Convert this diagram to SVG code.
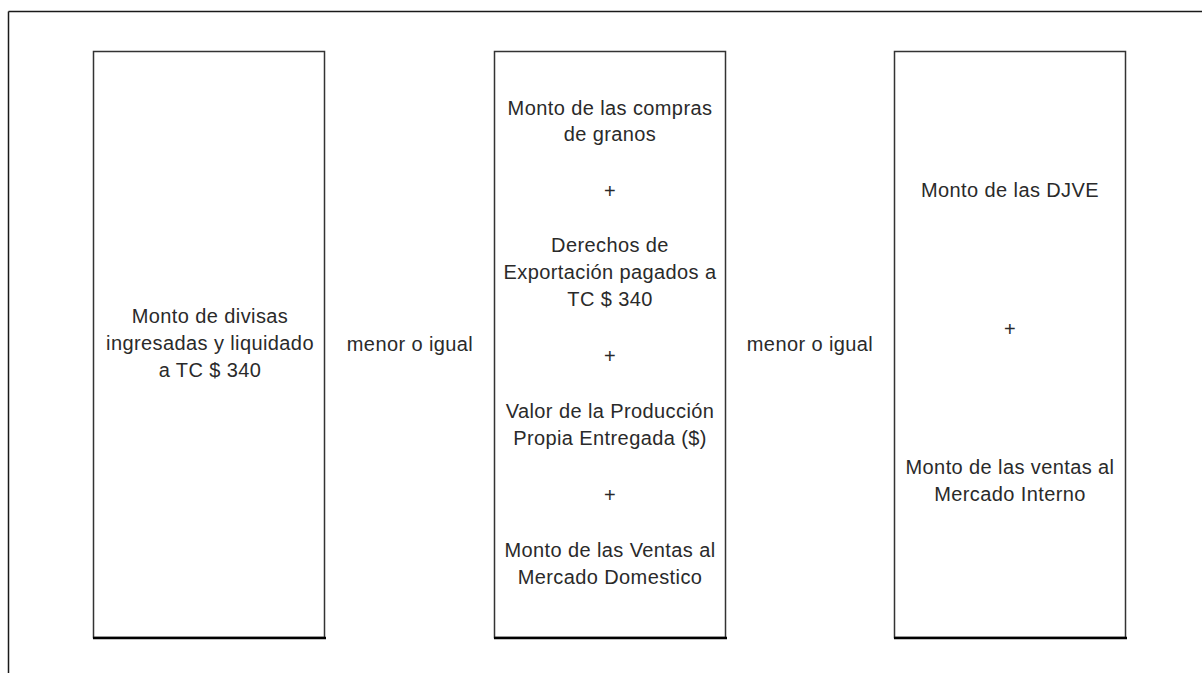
<svg xmlns="http://www.w3.org/2000/svg" width="1202" height="673" viewBox="0 0 1202 673">
<style>
.frame{stroke:#1a1a1a;stroke-width:1.5;fill:none}
.box{fill:#ffffff;stroke:#333333;stroke-width:1.5}
.base{stroke:#000000;stroke-width:2.5}
text{font-family:'Liberation Sans',Arial,sans-serif;font-size:20px;fill:#2a2a2a;text-anchor:middle;letter-spacing:0.4px}
</style>
<rect width="1202" height="673" fill="#ffffff"/>
<g id="frame">
<line class="frame" x1="8.5" y1="11.5" x2="1202" y2="11.5"/>
<line class="frame" x1="8.5" y1="11.5" x2="8.5" y2="673"/>
</g>
<g id="connectors">
<text x="410" y="351">menor o igual</text>
<text x="810" y="351">menor o igual</text>
</g>
<g id="node-divisas">
<rect class="box" x="93.5" y="51.5" width="231" height="586"/>
<line class="base" x1="93" y1="638" x2="326" y2="638"/>
<text x="210" y="323">Monto de divisas</text>
<text x="210" y="350">ingresadas y liquidado</text>
<text x="210" y="377">a TC $ 340</text>
</g>
<g id="node-compras">
<rect class="box" x="494.5" y="51.5" width="231" height="586"/>
<line class="base" x1="494" y1="638" x2="727" y2="638"/>
<text x="610" y="115">Monto de las compras</text>
<text x="610" y="141">de granos</text>
<text x="610" y="198">+</text>
<text x="610" y="252">Derechos de</text>
<text x="610" y="279">Exportación pagados a</text>
<text x="610" y="306">TC $ 340</text>
<text x="610" y="363">+</text>
<text x="610" y="418">Valor de la Producción</text>
<text x="610" y="445">Propia Entregada ($)</text>
<text x="610" y="502">+</text>
<text x="610" y="557">Monto de las Ventas al</text>
<text x="610" y="584">Mercado Domestico</text>
</g>
<g id="node-djve">
<rect class="box" x="894.5" y="51.5" width="231" height="586"/>
<line class="base" x1="894" y1="638" x2="1127" y2="638"/>
<text x="1010" y="197">Monto de las DJVE</text>
<text x="1010" y="336">+</text>
<text x="1010" y="474">Monto de las ventas al</text>
<text x="1010" y="501">Mercado Interno</text>
</g>
</svg>
